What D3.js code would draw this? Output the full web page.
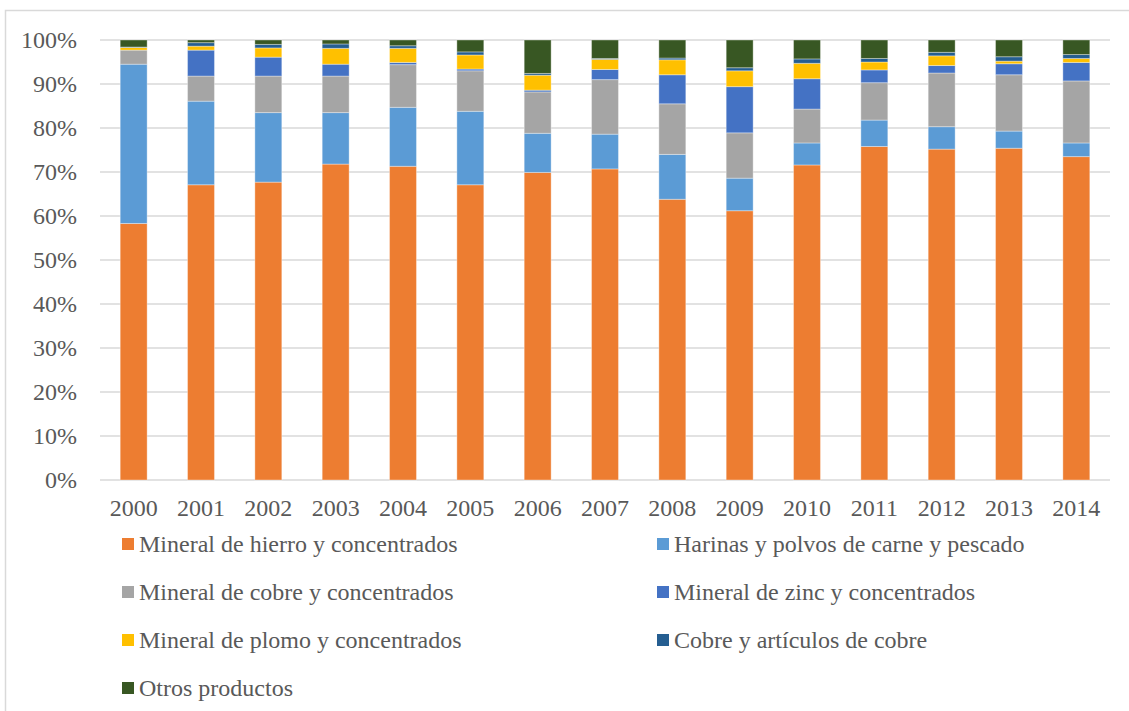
<!DOCTYPE html>
<html>
<head>
<meta charset="utf-8">
<script src="https://cdn.jsdelivr.net/npm/d3@7"></script>
<style>
  body { margin: 0; background: #fff; }
</style>
</head>
<body>
<svg id="chart" width="1129" height="711"></svg>
<script>
"use strict";

// years on the x axis
var years = ["2000","2001","2002","2003","2004","2005","2006","2007","2008","2009","2010","2011","2012","2013","2014"];

// series names, bottom to top
var seriesNames = [
    "Mineral de hierro y concentrados",
    "Harinas y polvos de carne y pescado",
    "Mineral de cobre y concentrados",
    "Mineral de zinc y concentrados",
    "Mineral de plomo y concentrados",
    "Cobre y artículos de cobre",
    "Otros productos"
];

// shares in percent
var hierro   = [58.3, 67.1, 67.7, 71.8, 71.3, 67.1, 69.9, 70.7, 63.8, 61.2, 71.6, 75.8, 75.2, 75.4, 73.5];
var harinas  = [36.2, 19.0, 15.8, 11.7, 13.4, 16.7,  8.9,  7.9, 10.2,  7.4,  5.0,  6.0,  5.1,  3.9,  3.1];
var cobre    = [ 3.2,  5.7,  8.3,  8.3,  9.7,  9.2,  9.4, 12.4, 11.5, 10.3,  7.7,  8.5, 12.2, 12.8, 14.1];
var zinc     = [ 0.0,  5.9,  4.3,  2.7,  0.5,  0.4,  0.4,  2.3,  6.6, 10.5,  6.9,  2.9,  1.7,  2.5,  4.2];
var plomo    = [ 0.6,  0.9,  2.1,  3.6,  3.2,  3.2,  3.4,  2.3,  3.4,  3.6,  3.5,  1.8,  2.2,  0.6,  0.9];
var cobreArt = [ 0.1,  0.8,  0.8,  1.0,  0.6,  0.7,  0.4,  0.2,  0.4,  0.7,  1.0,  0.8,  0.8,  1.0,  0.9];
var otros    = [ 1.6,  0.6,  1.0,  0.9,  1.3,  2.7,  7.6,  4.2,  4.1,  6.3,  4.3,  4.2,  2.8,  3.8,  3.3];

var yTicks = [0, 10, 20, 30, 40, 50, 60, 70, 80, 90, 100];

var colors = ["#ED7D31", "#5B9BD5", "#A5A5A5", "#4472C4", "#FFC000", "#255E91", "#385723"];

var allSeries = [hierro, harinas, cobre, zinc, plomo, cobreArt, otros];

var fontFam = "'Liberation Serif', Tinos, 'Times New Roman', serif";

// build table for d3.stack
var table = years.map(function(yr, i) {
    var row = { year: yr };
    seriesNames.forEach(function(name, k) { row[name] = allSeries[k][i]; });
    return row;
});

var svg = d3.select("#chart");

// chart frame
svg.append("rect")
    .attr("x", 5.5).attr("y", 10.5)
    .attr("width", 1130).attr("height", 720)
    .attr("fill", "none")
    .attr("stroke", "#d9d9d9")
    .attr("stroke-width", 1.5);

var x = d3.scaleBand()
    .domain(years)
    .range([100, 1110])
    .paddingInner(0.6)
    .paddingOuter(0.3);

var y = d3.scaleLinear()
    .domain([0, 100])
    .range([480, 40]);

// gridlines
svg.append("g")
    .selectAll("line")
    .data(yTicks)
    .enter().append("line")
    .attr("x1", 100).attr("x2", 1110)
    .attr("y1", function(d) { return y(d); })
    .attr("y2", function(d) { return y(d); })
    .attr("stroke", "#d9d9d9")
    .attr("stroke-width", 1.5);

// y tick labels
svg.append("g")
    .selectAll("text")
    .data(yTicks)
    .enter().append("text")
    .attr("x", 77)
    .attr("y", function(d) { return y(d) + 8; })
    .attr("text-anchor", "end")
    .attr("font-family", fontFam)
    .attr("font-size", 24)
    .attr("fill", "#595959")
    .text(function(d) { return d + "%"; });

// stacked bars
var stack = d3.stack().keys(seriesNames);
var layers = stack(table);

svg.append("g")
    .selectAll("g")
    .data(layers)
    .enter().append("g")
    .attr("fill", function(d, i) { return colors[i]; })
    .selectAll("rect")
    .data(function(d) { return d; })
    .enter().append("rect")
    .attr("x", function(d) { return x(d.data.year); })
    .attr("width", x.bandwidth())
    .attr("y", function(d) { return y(d[1]); })
    .attr("height", function(d) { return y(d[0]) - y(d[1]); })
    .attr("stroke", "#ffffff")
    .attr("stroke-opacity", 0.35)
    .attr("stroke-width", 1);

// x tick labels
svg.append("g")
    .selectAll("text")
    .data(years)
    .enter().append("text")
    .attr("x", function(d) { return x(d) + x.bandwidth() / 2; })
    .attr("y", 516)
    .attr("text-anchor", "middle")
    .attr("font-family", fontFam)
    .attr("font-size", 24)
    .attr("fill", "#595959")
    .text(function(d) { return d; });

// legend, two columns
var legendCols = [122, 657];
var legendRows = [544, 592, 640, 688];

var legend = svg.append("g")
    .selectAll("g")
    .data(seriesNames)
    .enter().append("g")
    .attr("transform", function(d, i) {
        return "translate(" + legendCols[i % 2] + "," + legendRows[Math.floor(i / 2)] + ")";
    });

legend.append("rect")
    .attr("x", 0).attr("y", -6)
    .attr("width", 12).attr("height", 12)
    .attr("fill", function(d, i) { return colors[i]; });

legend.append("text")
    .attr("x", 17)
    .attr("y", 8)
    .attr("font-family", fontFam)
    .attr("font-size", 24)
    .attr("fill", "#595959")
    .text(function(d) { return d; });
</script>
</body>
</html>
